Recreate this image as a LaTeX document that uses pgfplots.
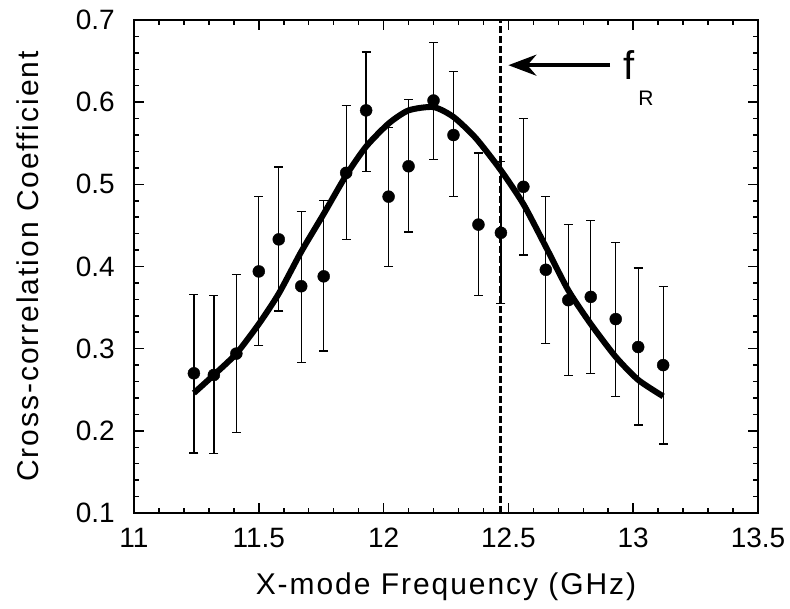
\documentclass[border=0pt]{standalone}
\usepackage{pgfplots}
\pgfplotsset{compat=1.18}
\usepackage{pgfplotstable}
\usepackage{fontspec}
\setmainfont{Liberation Sans}
\usetikzlibrary{arrows.meta}
\newfontfamily\labelfont[LetterSpace=6.5]{Liberation Sans}

\pgfplotstableread{
x y ep em
11.24 0.270 0.096 0.097
11.32 0.268 0.097 0.096
11.41 0.294 0.096 0.096
11.50 0.394 0.091 0.090
11.58 0.433 0.088 0.087
11.67 0.376 0.091 0.093
11.76 0.388 0.092 0.091
11.85 0.514 0.082 0.081
11.93 0.590 0.071 0.074
12.02 0.485 0.084 0.085
12.10 0.522 0.081 0.080
12.20 0.602 0.071 0.072
12.28 0.560 0.077 0.075
12.38 0.451 0.087 0.086
12.47 0.441 0.087 0.086
12.56 0.497 0.083 0.083
12.65 0.396 0.089 0.090
12.74 0.359 0.092 0.092
12.83 0.363 0.093 0.093
12.93 0.336 0.093 0.094
13.02 0.302 0.096 0.095
13.12 0.280 0.096 0.096
}\datatable

\pgfplotstableread{
x y
11.24 0.246
11.32 0.268
11.41 0.294
11.50 0.330
11.58 0.367
11.67 0.418
11.76 0.464
11.85 0.511
11.93 0.546
12.02 0.574
12.10 0.590
12.20 0.594
12.28 0.582
12.37 0.556
12.47 0.517
12.56 0.476
12.65 0.424
12.74 0.371
12.83 0.330
12.93 0.290
13.02 0.262
13.12 0.242
}\fittable

\begin{document}
\begin{tikzpicture}
\begin{axis}[
  scale only axis,
  width=624pt, height=493pt,
  xmin=11, xmax=13.5, ymin=0.1, ymax=0.7,
  xtick={11,11.5,12,12.5,13,13.5},
  ytick={0.1,0.2,0.3,0.4,0.5,0.6,0.7},
  xticklabels={11,11.5,12,12.5,13,13.5},
  yticklabels={0.1,0.2,0.3,0.4,0.5,0.6,0.7},
  minor x tick num=4, minor y tick num=4,
  tick align=inside,
  xtick pos=both, ytick pos=both,
  major tick length=10pt, minor tick length=5pt,
  every tick/.style={black, line width=1.5pt},
  axis line style={line width=2pt},
  /pgf/number format/assume math mode=true,
  ticklabel style={font=\fontsize{28}{32}\selectfont, inner sep=0pt},
  xticklabel style={anchor=base, yshift=-35pt},
  yticklabel style={anchor=east, xshift=-19pt},
  xlabel={X-mode Frequency (GHz)},
  ylabel={Cross-correlation Coefficient},
  xlabel style={font=\labelfont\fontsize{30}{34}\selectfont, at={(axis description cs:0.5,-0.1663)}, anchor=base, inner sep=0pt},
  ylabel style={font=\labelfont\fontsize{30}{34}\selectfont, at={(axis description cs:-0.1536,0.5)}, anchor=base, inner sep=0pt},
  clip=false,
]
\addplot[black, line width=3.5pt, dash pattern=on 7pt off 3pt] coordinates {(12.468,0.1) (12.468,0.7)};
\addplot[black, only marks, mark=*, mark size=6pt,
  error bars/.cd, y dir=both, y explicit,
  error bar style={line width=1.3pt},
  error mark options={rotate=90, mark size=4.5pt, line width=1.3pt}]
  table[x=x, y=y, y error plus=ep, y error minus=em] {\datatable};
\addplot[black, line width=6pt, smooth, tension=0.4, line join=round, line cap=butt] table[x=x, y=y] {\fittable};
\addplot[black, line width=3.5pt, -{Stealth[length=28pt, width=21pt, inset=9pt]}] coordinates {(12.908,0.645) (12.500,0.645)};
\node[anchor=base west, inner sep=0pt, font=\fontsize{40}{44}\selectfont] at (axis cs:12.96,0.627) {f};
\node[anchor=base west, inner sep=0pt, font=\fontsize{21}{24}\selectfont] at (axis cs:13.02,0.596) {R};
\end{axis}
\pgfresetboundingbox
\path[use as bounding box] (-134pt,-96pt) rectangle (656pt,513pt);
\end{tikzpicture}
\end{document}
